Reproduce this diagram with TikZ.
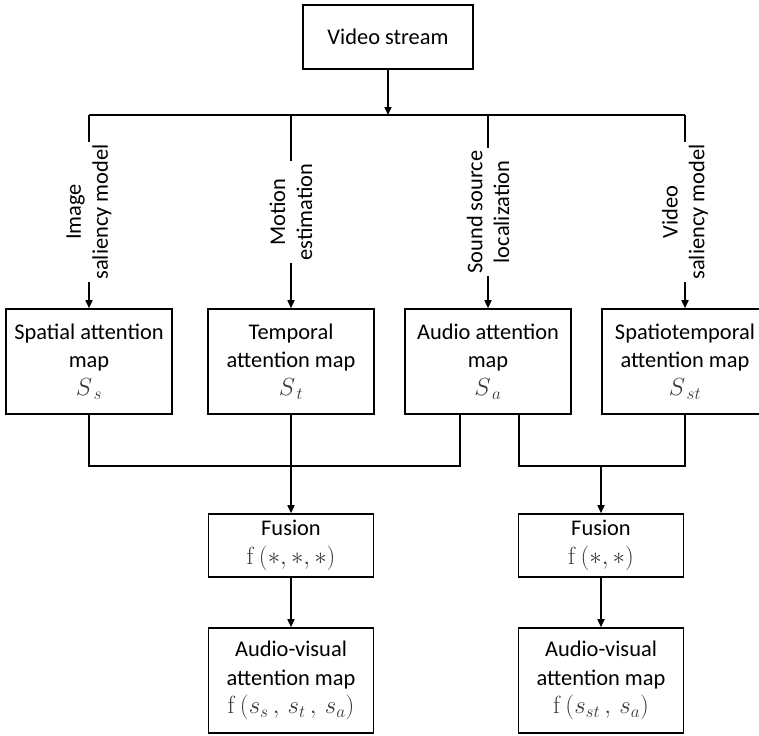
\documentclass[tikz,border=0pt]{standalone}
\usepackage[no-math]{fontspec}
\setmainfont{Carlito}
\usetikzlibrary{arrows.meta}
\definecolor{mathgray}{RGB}{55,55,55}
\newcommand{\mg}[1]{\textcolor{mathgray}{\fontsize{27}{29}\selectfont #1}}
\begin{document}
\begin{tikzpicture}[x=1bp,y=-1bp,
  every node/.style={font=\fontsize{22.5}{29}\selectfont},
  box/.style={draw, line width=1.6bp, minimum width=166bp, inner sep=0pt, align=center},
  conn/.style={line width=1.6bp},
  arr/.style={conn, -{Triangle[length=8bp,width=7bp]}},
  lbl/.style={rotate=90, fill=white, align=center, inner sep=2.5bp, font=\fontsize{22.5}{27}\selectfont}
]
\useasboundingbox (0,0) rectangle (759,736);
\clip (0,0) rectangle (759,736);

% top
\node[box, minimum width=170bp, minimum height=64bp] (vs) at (388,37) {Video stream};
\coordinate (h1) at (89,115);
\coordinate (h2) at (291,115);
\coordinate (h3) at (488,115);
\coordinate (h4) at (685,115);
\coordinate (hv) at (388,115);

% attention maps
\node[box, minimum height=105bp] (s1) at (89,361.5) {Spatial attention\\map\\[-1pt]\mg{$S_{\,s}$}};
\node[box, minimum height=105bp] (s2) at (291,361.5) {Temporal\\attention map\\[-1pt]\mg{$S_{\,t}$}};
\node[box, minimum height=105bp] (s3) at (488,361.5) {Audio attention\\map\\[-1pt]\mg{$S_{\,a}$}};
\node[box, minimum height=105bp] (s4) at (685,361.5) {Spatiotemporal\\attention map\\[-1pt]\mg{$S_{\,st}$}};

% fusion
\node[box, minimum width=165bp, minimum height=63bp] (f1) at (291,545.5) {Fusion\\[0pt]\mg{$\mathrm{f}\,\bigl(*,*,*\bigr)$}};
\node[box, minimum width=165bp, minimum height=63bp] (f2) at (601,545.5) {Fusion\\[0pt]\mg{$\mathrm{f}\,\bigl(*,*\bigr)$}};

% outputs
\node[box, minimum width=165bp, minimum height=105bp] (av1) at (291,680.5) {Audio-visual\\attention map\\[-1pt]\mg{$\mathrm{f}\,\bigl(s_s\,,\,s_t\,,\,s_a\bigr)$}};
\node[box, minimum width=165bp, minimum height=105bp] (av2) at (601,680.5) {Audio-visual\\attention map\\[-1pt]\mg{$\mathrm{f}\,\bigl(s_{st}\,,\,s_a\bigr)$}};

% connectors top
\draw[arr] (vs.south) -- (hv);
\draw[conn] (h1) -- (h4);
\draw[arr] (h1) -- (s1.north);
\draw[arr] (h2) -- (s2.north);
\draw[arr] (h3) -- (s3.north);
\draw[arr] (h4) -- (s4.north);

% labels
\node[lbl] (l1) at (89,212) {Image\\saliency model};
\node[lbl] (l2) at (291,212) {Motion\\estimation};
\node[lbl] (l3) at (488,212) {Sound source\\localization};
\node[lbl] (l4) at (685,212) {Video\\saliency model};

% connectors bottom
\coordinate (b1) at (89,466);
\coordinate (b3l) at (460,466);
\coordinate (b3r) at (519,466);
\coordinate (b4) at (685,466);
\draw[conn] (s1.south) -- (b1) -- (b3l) -- (b3l |- s3.south);
\draw[arr] (s2.south) -- (f1.north);
\draw[conn] (b3r |- s3.south) -- (b3r) -- (b4) -- (s4.south);
\draw[arr] (f2.north |- b3r) -- (f2.north);
\draw[arr] (f1.south) -- (av1.north);
\draw[arr] (f2.south) -- (av2.north);
\end{tikzpicture}
\end{document}
